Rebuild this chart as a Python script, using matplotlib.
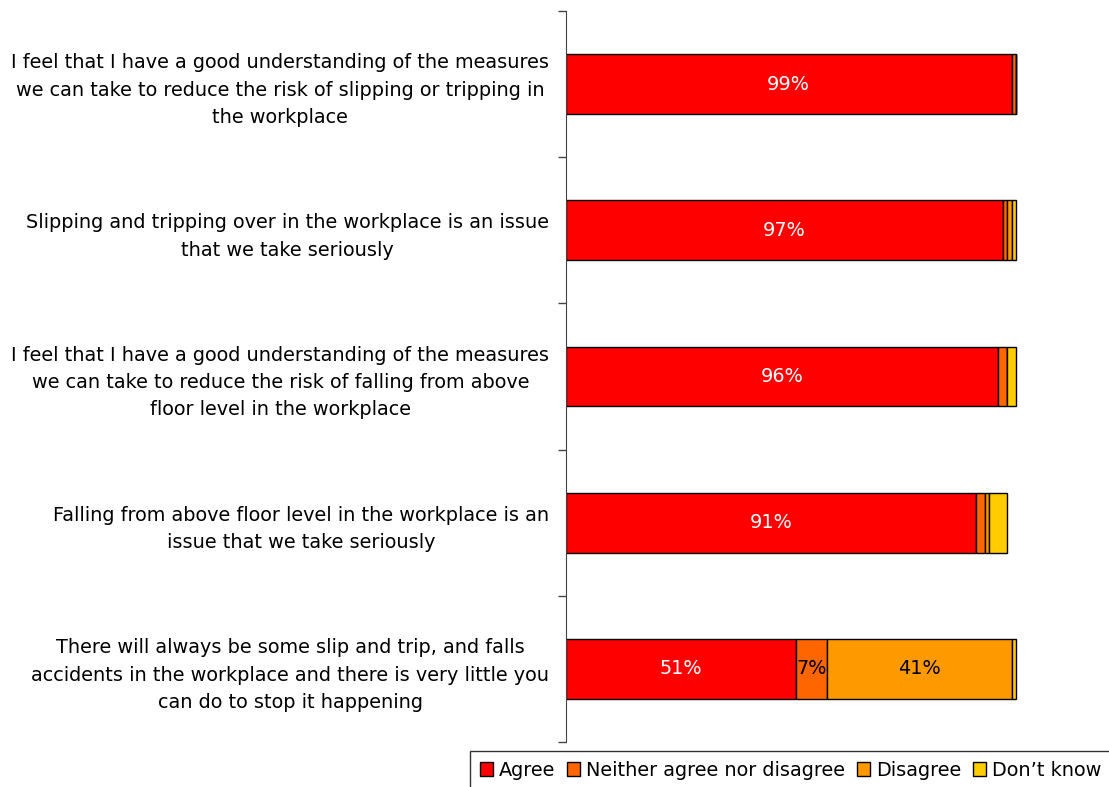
import numpy as np
import matplotlib.pyplot as plt
from matplotlib.patches import Patch

plt.rcParams['font.family'] = ['DejaVu Sans']

# =====================
# Data
# =====================
statements = [
    "I feel that I have a good understanding of the measures\nwe can take to reduce the risk of slipping or tripping in\nthe workplace",
    "Slipping and tripping over in the workplace is an issue\nthat we take seriously",
    "I feel that I have a good understanding of the measures\nwe can take to reduce the risk of falling from above\nfloor level in the workplace",
    "Falling from above floor level in the workplace is an\nissue that we take seriously",
    "There will always be some slip and trip, and falls\naccidents in the workplace and there is very little you\ncan do to stop it happening",
]
agree = [99, 97, 96, 91, 51]
neither = [1, 1, 2, 2, 7]
disagree = [0, 1, 0, 1, 41]
dont_know = [0, 1, 2, 4, 1]

series_names = ["Agree", "Neither agree nor disagree", "Disagree", "Don\u2019t know"]
colors = ["#FF0000", "#FF6600", "#FF9900", "#FFCC00"]
text_colors = ["white", "black", "black", "black"]
FS = 13.9

# =====================
# Plot
# =====================
fig = plt.figure(figsize=(11.09, 7.87), dpi=100)
ax = fig.add_axes([566 / 1109, 45 / 787, 543 / 1109, 731 / 787])

ypos = np.arange(len(statements))
left = np.zeros(len(statements))
for vals, name, col, tcol in zip([agree, neither, disagree, dont_know], series_names, colors, text_colors):
    vals = np.array(vals, dtype=float)
    ax.barh(ypos, vals, left=left, height=0.41, color=col, edgecolor="black", linewidth=1, label=name)
    for y, v, l in zip(ypos, vals, left):
        if v >= 5:
            ax.text(l + v / 2, y, f"{v:.0f}%", ha="center", va="center", color=tcol, fontsize=FS)
    left += vals

ax.set_xlim(0, 100 * 543 / 450)
ax.set_ylim(4.5, -0.5)

# boundary ticks and centred labels
ax.set_yticks(np.arange(-0.5, len(statements), 1))
ax.set_yticklabels([])
ax.tick_params(axis="y", which="major", length=6, width=1, color="#444444", direction="out")
ax.set_yticks(ypos, statements, minor=True)
ax.tick_params(axis="y", which="minor", length=0, pad=12, labelsize=FS)
for lab in ax.get_yticklabels(minor=True):
    lab.set_multialignment("center")
    lab.set_linespacing(1.55)

ax.set_xticks([])
for s in ["top", "right", "bottom"]:
    ax.spines[s].set_visible(False)
ax.spines["left"].set_color("#444444")

handles = [Patch(facecolor=c, edgecolor="black", linewidth=1) for c in colors]
leg = fig.legend(handles, series_names, loc="upper left", bbox_to_anchor=(470 / 1109, 1 - 751 / 787),
                 ncol=4, fontsize=FS, frameon=True, fancybox=False, edgecolor="black",
                 handlelength=0.7, handleheight=0.7, handletextpad=0.3, columnspacing=0.6,
                 borderpad=0.5, borderaxespad=0)
leg.get_frame().set_linewidth(1)

fig.savefig("out.png", dpi=100)
